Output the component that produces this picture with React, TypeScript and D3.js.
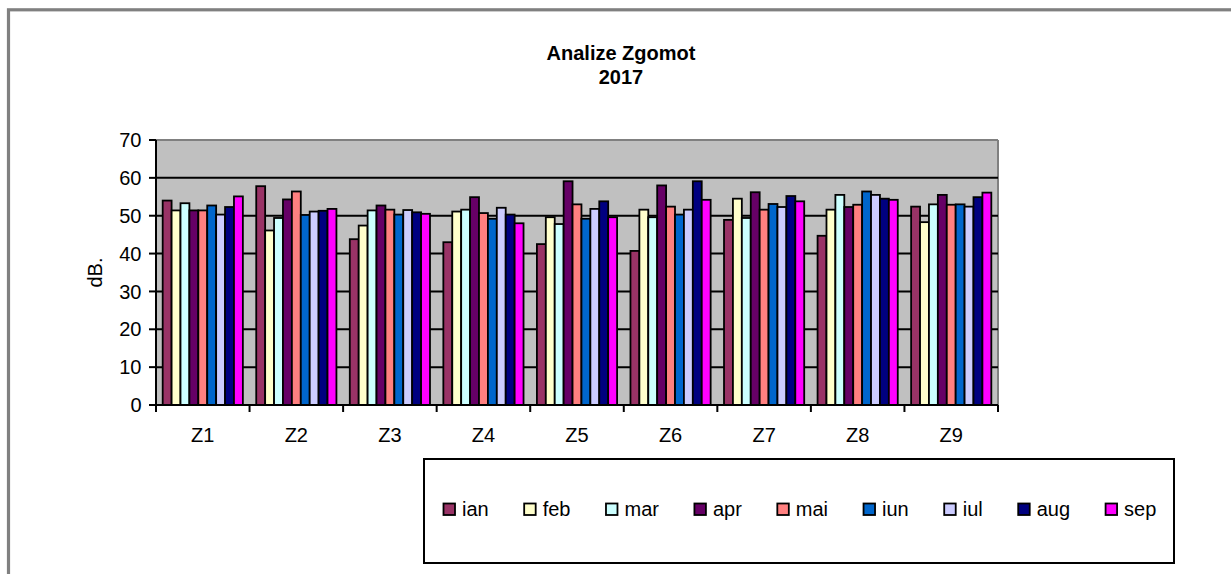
import React from "react";
import * as d3 from "d3";

const categories = ["Z1", "Z2", "Z3", "Z4", "Z5", "Z6", "Z7", "Z8", "Z9"];
const months = ["ian", "feb", "mar", "apr", "mai", "iun", "iul", "aug", "sep"];
const colors = ["#993366", "#FFFFCC", "#CCFFFF", "#660066", "#FF8080", "#0066CC", "#CCCCFF", "#000080", "#FF00FF"];

const ian = [54.0, 57.8, 43.8, 43.0, 42.5, 40.7, 48.9, 44.7, 52.4];
const feb = [51.4, 46.1, 47.4, 51.1, 49.6, 51.6, 54.5, 51.6, 48.3];
const mar = [53.3, 49.4, 51.4, 51.6, 47.8, 49.6, 49.4, 55.5, 53.0];
const apr = [51.4, 54.3, 52.7, 54.9, 59.1, 58.0, 56.2, 52.3, 55.5];
const mai = [51.4, 56.4, 51.6, 50.7, 53.0, 52.4, 51.6, 52.9, 52.9];
const iun = [52.7, 50.2, 50.3, 49.2, 49.2, 50.3, 53.1, 56.4, 53.0];
const iul = [50.3, 51.1, 51.5, 52.1, 51.8, 51.6, 52.3, 55.5, 52.4];
const aug = [52.3, 51.3, 50.9, 50.3, 53.8, 59.1, 55.2, 54.5, 54.9];
const sep = [55.1, 51.8, 50.5, 48.0, 49.6, 54.2, 53.8, 54.2, 56.1];
const seriesValues = [ian, feb, mar, apr, mai, iun, iul, aug, sep];

const yTicks = [0, 10, 20, 30, 40, 50, 60, 70];
const titleLines = ["Analize Zgomot", "2017"];
const yTitle = "dB.";

const FONT = "'Liberation Sans', Arial, Helvetica, sans-serif";

// Arial glyph widths (em) for legend layout
const charW: Record<string, number> = {
  a: 0.556, b: 0.556, e: 0.556, f: 0.278, g: 0.556, i: 0.222, l: 0.222,
  m: 0.833, n: 0.556, p: 0.556, r: 0.333, s: 0.5, u: 0.556,
};
const textWidth = (s: string, size: number) =>
  s.split("").reduce((acc, c) => acc + (charW[c] ?? 0.556), 0) * size;

export default function App() {
  const W = 1231, H = 574;
  const left = 156, right = 998, top = 140, bottom = 405;
  const FS = 20;

  const x0 = d3.scaleBand<string>().domain(categories).range([left, right]).paddingInner(0).paddingOuter(0);
  const x1 = d3.scaleBand<string>().domain(months).range([0, x0.bandwidth()]).paddingInner(0).paddingOuter(0.75);
  const y = d3.scaleLinear().domain([0, 70]).range([bottom, top]);

  const legX0 = 443.5;
  const legPositions: number[] = [];
  let cur = legX0;
  months.forEach((m) => {
    legPositions.push(cur);
    cur += textWidth(m, FS) + 54;
  });

  return (
    <svg width={W} height={H} style={{ position: "absolute", left: 0, top: 0, background: "#fff" }} fontFamily={FONT}>
      <rect x={0} y={0} width={W} height={H} fill="#fff" />
      {/* outer chart frame */}
      <rect x={8.5} y={9.8} width={W + 20} height={H + 20} fill="none" stroke="#808080" strokeWidth={3.2} />

      {/* title */}
      {titleLines.map((t, i) => (
        <text key={t} x={621} y={60 + i * 24} textAnchor="middle" fontWeight="bold" fontSize={FS} fill="#000">
          {t}
        </text>
      ))}

      {/* plot area */}
      <rect x={left} y={top} width={right - left} height={bottom - top} fill="#C0C0C0" />
      <line x1={left} x2={right} y1={top} y2={top} stroke="#808080" strokeWidth={2} />
      <line x1={right} x2={right} y1={top} y2={bottom} stroke="#808080" strokeWidth={2} />

      {/* gridlines */}
      {yTicks.filter((t) => t > 0 && t < 70).map((t) => (
        <line key={t} x1={left} x2={right} y1={y(t)} y2={y(t)} stroke="#000" strokeWidth={2} />
      ))}

      {/* bars */}
      {categories.map((c, ci) => (
        <g key={c} transform={`translate(${x0(c)},0)`}>
          {months.map((m, mi) => (
            <rect
              key={m}
              x={x1(m)}
              y={y(seriesValues[mi][ci])}
              width={x1.bandwidth()}
              height={y(0) - y(seriesValues[mi][ci])}
              fill={colors[mi]}
              stroke="#000"
              strokeWidth={1.8}
            />
          ))}
        </g>
      ))}

      {/* y axis */}
      <line x1={left} x2={left} y1={top} y2={bottom} stroke="#000" strokeWidth={2} />
      {yTicks.map((t) => (
        <g key={t}>
          <line x1={left - 7} x2={left} y1={y(t)} y2={y(t)} stroke="#000" strokeWidth={2} />
          <text x={141.5} y={y(t)} dy="0.36em" textAnchor="end" fontSize={FS} fill="#000">
            {t}
          </text>
        </g>
      ))}
      <text transform={`translate(102,${(top + bottom) / 2}) rotate(-90)`} textAnchor="middle" fontSize={FS} fill="#000">
        {yTitle}
      </text>

      {/* x axis */}
      <line x1={left} x2={right} y1={bottom} y2={bottom} stroke="#000" strokeWidth={2} />
      {categories.map((c) => (
        <line key={"t" + c} x1={x0(c)!} x2={x0(c)!} y1={bottom} y2={bottom + 7} stroke="#000" strokeWidth={2} />
      ))}
      <line x1={right} x2={right} y1={bottom} y2={bottom + 7} stroke="#000" strokeWidth={2} />
      {categories.map((c) => (
        <text key={"l" + c} x={x0(c)! + x0.bandwidth() / 2} y={441.5} textAnchor="middle" fontSize={FS} fill="#000">
          {c}
        </text>
      ))}

      {/* legend */}
      <rect x={424} y={459} width={750} height={104} fill="#fff" stroke="#000" strokeWidth={2} />
      {months.map((m, i) => (
        <g key={"lg" + m}>
          <rect x={legPositions[i]} y={503.5} width={11.5} height={11.5} fill={colors[i]} stroke="#000" strokeWidth={1.8} />
          <text x={legPositions[i] + 18.5} y={516} fontSize={FS} fill="#000">
            {m}
          </text>
        </g>
      ))}
    </svg>
  );
}
